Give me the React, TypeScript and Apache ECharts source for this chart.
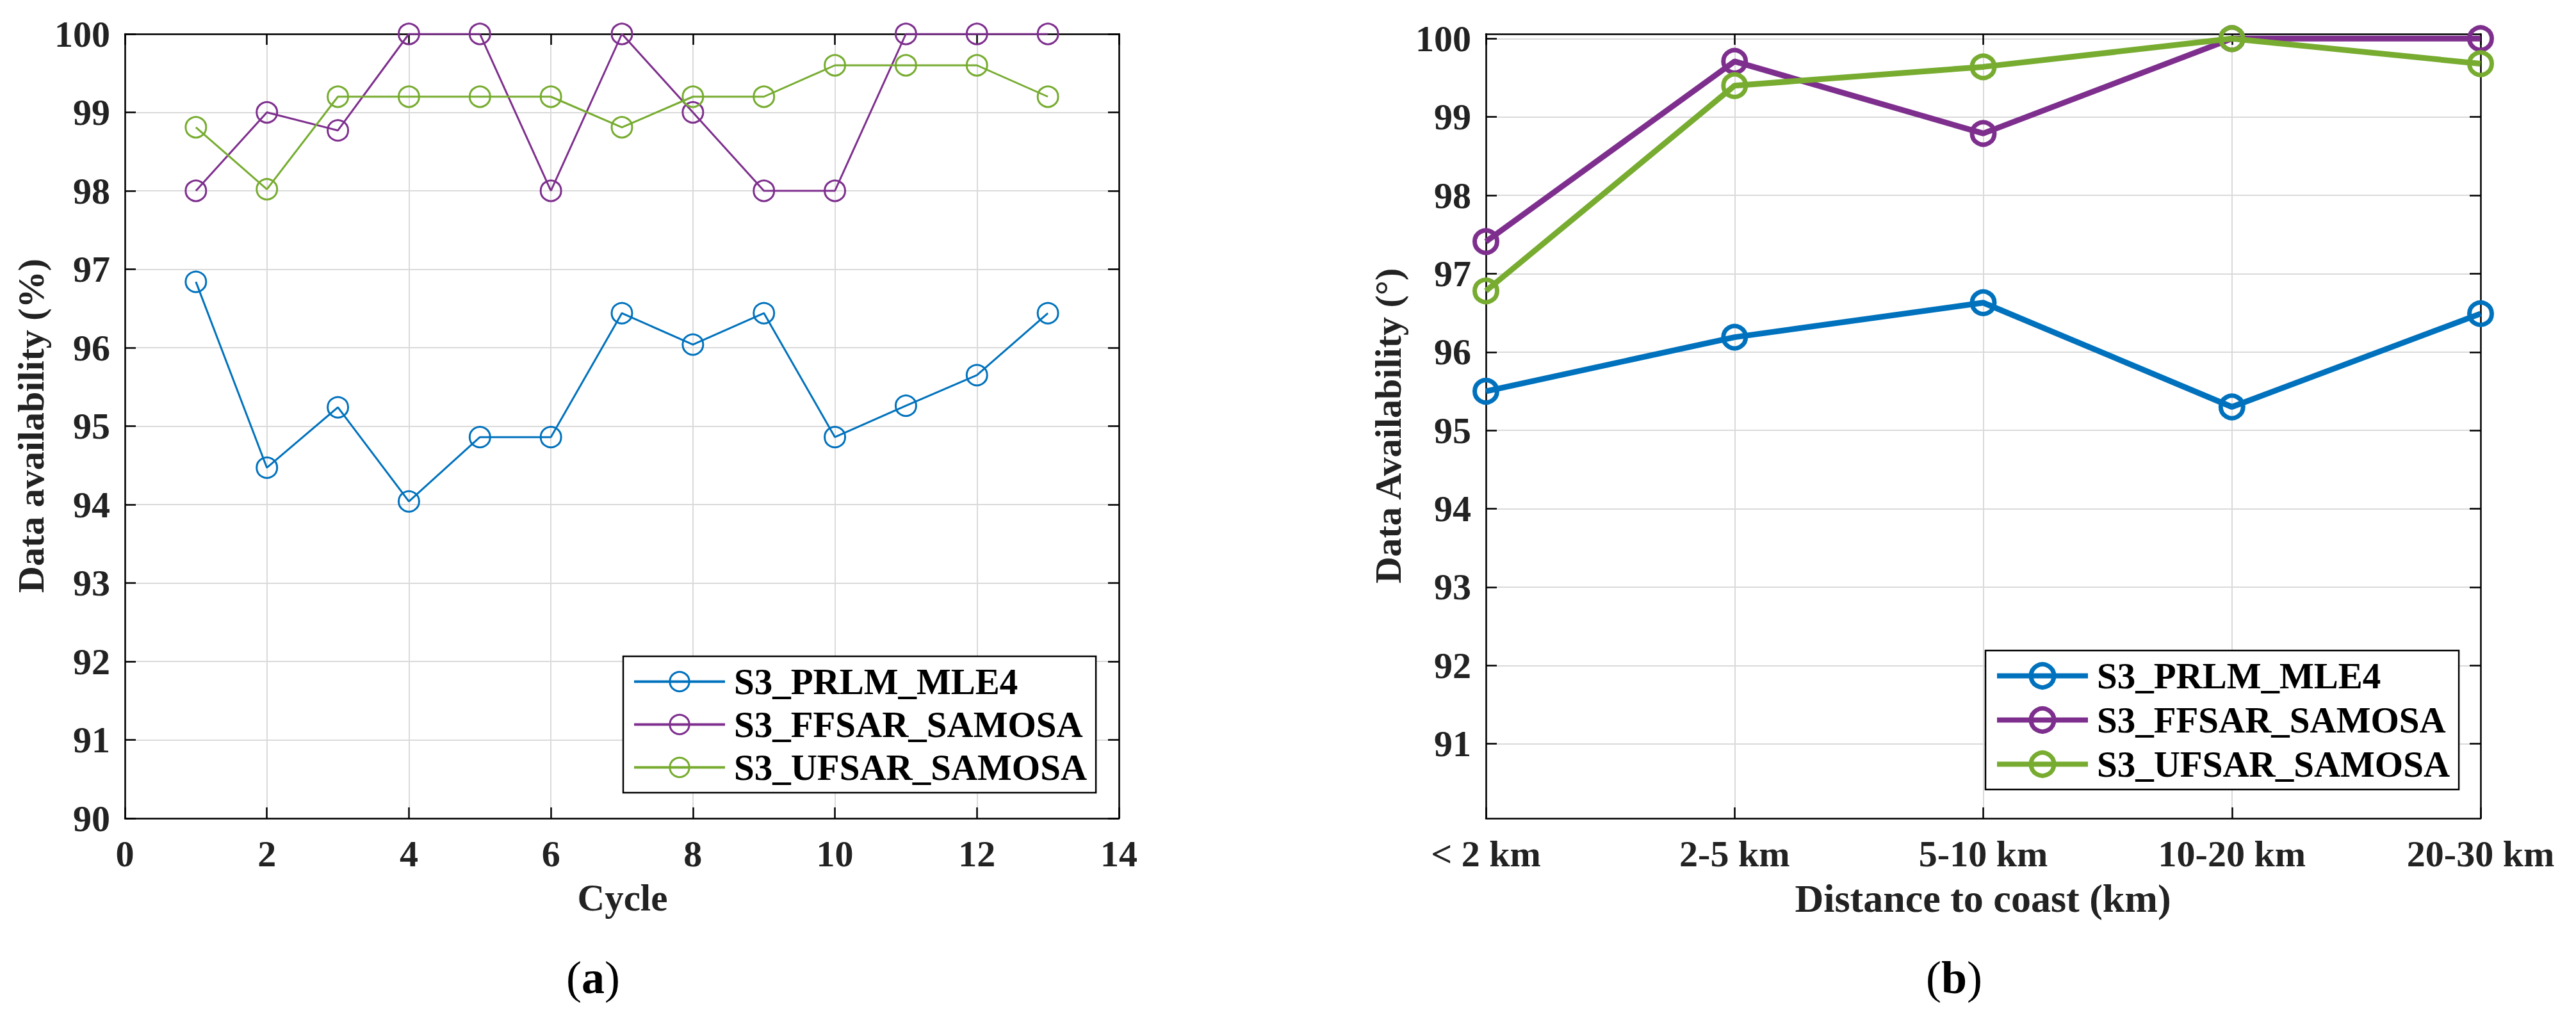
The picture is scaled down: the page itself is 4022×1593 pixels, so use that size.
import React, { useEffect, useRef } from 'react';
import * as echarts from 'echarts';

// ---------- data ----------
const cycles = [1, 2, 3, 4, 5, 6, 7, 8, 9, 10, 11, 12, 13];
const prlmCycle = [96.84, 94.47, 95.24, 94.04, 94.86, 94.86, 96.44, 96.04, 96.44, 94.86, 95.26, 95.65, 96.44];
const ffsarCycle = [98.0, 99.0, 98.77, 100, 100, 98.0, 100, 99.0, 98.0, 98.0, 100, 100, 100];
const ufsarCycle = [98.81, 98.02, 99.2, 99.2, 99.2, 99.2, 98.81, 99.2, 99.2, 99.6, 99.6, 99.6, 99.2];

const distCats = ['< 2 km', '2-5 km', '5-10 km', '10-20 km', '20-30 km'];
const prlmDist = [95.5, 96.19, 96.63, 95.3, 96.49];
const ffsarDist = [97.41, 99.71, 98.79, 100, 100];
const ufsarDist = [96.78, 99.4, 99.64, 100, 99.68];

const yTicksB = [91, 92, 93, 94, 95, 96, 97, 98, 99, 100];
const seriesNames = ['S3_PRLM_MLE4', 'S3_FFSAR_SAMOSA', 'S3_UFSAR_SAMOSA'];

// ---------- styles ----------
const FONT = '"Liberation Serif", "Times New Roman", serif';
const COLORS = ['#0072BD', '#7E2F8E', '#77AC30'];
const TXT = '#222222';

export default function App() {
  const ref = useRef<HTMLDivElement>(null);

  useEffect(() => {
    if (!ref.current) return;
    const chart = echarts.init(ref.current, null, { renderer: 'svg' });

    const axisLine = { show: true, onZero: false, lineStyle: { color: '#000', width: 2.5 } };
    const tick = { show: true, inside: true, length: 17, lineStyle: { color: '#000', width: 2.5 } };
    const split = { show: true, lineStyle: { color: '#dadada', width: 2 } };
    const label = { fontSize: 58, fontWeight: 'bold', fontFamily: FONT, color: TXT };

    const leftData = [prlmCycle, ffsarCycle, ufsarCycle];
    const rightData = [prlmDist, ffsarDist, ufsarDist];

    const seriesA = leftData.map((arr, k) => ({
      name: seriesNames[k],
      type: 'line',
      xAxisIndex: 0,
      yAxisIndex: 0,
      data: cycles.map((c, i) => [c, arr[i]]),
      symbol: 'circle',
      symbolSize: 32,
      lineStyle: { color: COLORS[k], width: 3 },
      itemStyle: { color: 'rgba(0,0,0,0)', borderColor: COLORS[k], borderWidth: 3 },
      z: 3 + k,
    }));
    const seriesB = rightData.map((arr, k) => ({
      name: seriesNames[k],
      type: 'line',
      xAxisIndex: 2,
      yAxisIndex: 2,
      data: arr,
      symbol: 'circle',
      symbolSize: 35,
      lineStyle: { color: COLORS[k], width: 9 },
      itemStyle: { color: 'rgba(0,0,0,0)', borderColor: COLORS[k], borderWidth: 7 },
      z: 3 + k,
    }));

    const legendText = { fontSize: 57, fontWeight: 'bold', fontFamily: FONT, color: '#000', padding: [0, 0, 0, 9] };

    const option: any = {
      animation: false,
      backgroundColor: '#fff',
      textStyle: { fontFamily: FONT },
      grid: [
        { left: 195, top: 53, width: 1552, height: 1225 },
        { left: 2320, top: 53, width: 1553, height: 1225 },
      ],
      xAxis: [
        {
          gridIndex: 0, type: 'value', min: 0, max: 14, interval: 2, position: 'bottom',
          axisLine, axisTick: tick, splitLine: split,
          axisLabel: { ...label, margin: 26 },
        },
        {
          gridIndex: 0, type: 'value', min: 0, max: 14, interval: 2, position: 'top',
          axisLine, axisTick: tick, splitLine: { show: false }, axisLabel: { show: false },
        },
        {
          gridIndex: 1, type: 'category', data: distCats, boundaryGap: false, position: 'bottom',
          axisLine, axisTick: { ...tick, interval: 0 }, splitLine: { ...split, interval: 0 },
          axisLabel: { ...label, margin: 26, interval: 0 },
        },
        {
          gridIndex: 1, type: 'category', data: distCats, boundaryGap: false, position: 'top',
          axisLine, axisTick: { ...tick, interval: 0 }, splitLine: { show: false }, axisLabel: { show: false },
        },
      ],
      yAxis: [
        {
          gridIndex: 0, type: 'value', min: 90, max: 100, interval: 1, position: 'left',
          axisLine, axisTick: tick, splitLine: split,
          axisLabel: { ...label, margin: 23 },
        },
        {
          gridIndex: 0, type: 'value', min: 90, max: 100, interval: 1, position: 'right',
          axisLine, axisTick: tick, splitLine: { show: false }, axisLabel: { show: false },
        },
        {
          gridIndex: 1, type: 'value', min: 90.05, max: 100.06, position: 'left',
          axisLine, axisTick: { ...tick, customValues: yTicksB }, splitLine: split,
          axisLabel: { ...label, margin: 23, customValues: yTicksB },
        },
        {
          gridIndex: 1, type: 'value', min: 90.05, max: 100.06, position: 'right',
          axisLine, axisTick: { ...tick, customValues: yTicksB }, splitLine: { show: false },
          axisLabel: { show: false, customValues: yTicksB },
        },
      ],
      legend: [
        {
          data: seriesNames, orient: 'vertical', left: 973, top: 1025,
          padding: [11, 14, 11, 15], itemWidth: 142, itemHeight: 38, itemGap: 10,
          borderColor: '#000', borderWidth: 2.5, backgroundColor: '#fff',
          lineStyle: { width: 4 }, itemStyle: { borderWidth: 3 },
          textStyle: legendText, selectedMode: false,
        },
        {
          data: seriesNames, orient: 'vertical', left: 3100, top: 1016,
          padding: [11, 14, 11, 14], itemWidth: 142, itemHeight: 45, itemGap: 12,
          borderColor: '#000', borderWidth: 2.5, backgroundColor: '#fff',
          lineStyle: { width: 8 }, itemStyle: { borderWidth: 7 },
          textStyle: legendText, selectedMode: false,
        },
      ],
      graphic: [
        {
          type: 'text', x: 48, y: 665, rotation: Math.PI / 2,
          style: { text: 'Data availability (%)', fontSize: 58, fontWeight: 'bold', fontFamily: FONT, fill: TXT, textAlign: 'center', textVerticalAlign: 'middle' },
        },
        {
          type: 'text', x: 972, y: 1402,
          style: { text: 'Cycle', fontSize: 59, fontWeight: 'bold', fontFamily: FONT, fill: TXT, textAlign: 'center', textVerticalAlign: 'middle' },
        },
        {
          type: 'text', x: 2167, y: 665, rotation: Math.PI / 2,
          style: { text: 'Data Availability (°)', fontSize: 58, fontWeight: 'bold', fontFamily: FONT, fill: TXT, textAlign: 'center', textVerticalAlign: 'middle' },
        },
        {
          type: 'text', x: 3096, y: 1403,
          style: { text: 'Distance to coast (km)', fontSize: 62, fontWeight: 'bold', fontFamily: FONT, fill: TXT, textAlign: 'center', textVerticalAlign: 'middle' },
        },
        {
          type: 'text', x: 926, y: 1527,
          style: {
            text: '{n|(}{b|a}{n|)}', fontSize: 72, fontFamily: FONT, fill: '#000', textAlign: 'center', textVerticalAlign: 'middle',
            rich: { n: { fontSize: 72, fontFamily: FONT, fontWeight: 'normal', fill: '#000' }, b: { fontSize: 72, fontFamily: FONT, fontWeight: 'bold', fill: '#000' } },
          },
        },
        {
          type: 'text', x: 3051, y: 1527,
          style: {
            text: '{n|(}{b|b}{n|)}', fontSize: 72, fontFamily: FONT, fill: '#000', textAlign: 'center', textVerticalAlign: 'middle',
            rich: { n: { fontSize: 72, fontFamily: FONT, fontWeight: 'normal', fill: '#000' }, b: { fontSize: 72, fontFamily: FONT, fontWeight: 'bold', fill: '#000' } },
          },
        },
      ],
      series: [...seriesA, ...seriesB],
    };

    chart.setOption(option);
    return () => chart.dispose();
  }, []);

  return (
    <div
      ref={ref}
      style={{ position: 'fixed', left: 0, top: 0, width: 4022, height: 1593, background: '#fff' }}
    />
  );
}
